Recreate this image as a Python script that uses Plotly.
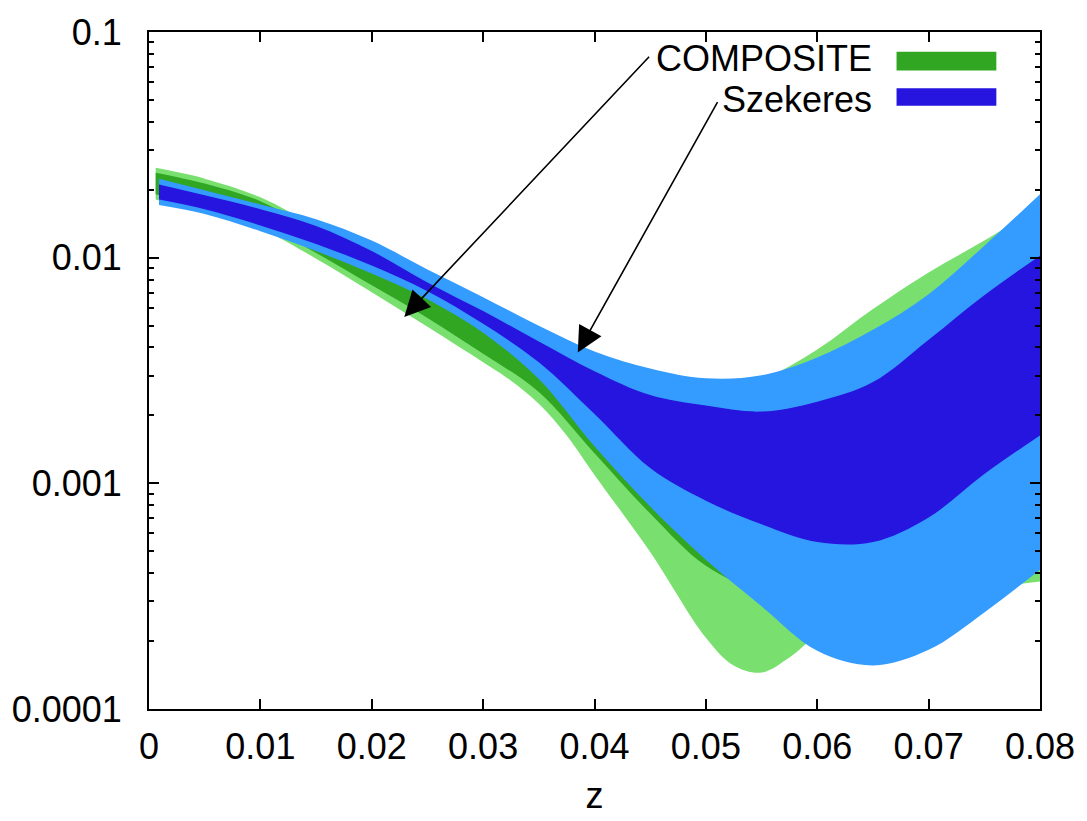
import plotly.graph_objects as go

# ---------------- data ----------------
z_comp = [0.0006, 0.005, 0.01, 0.015, 0.02, 0.025, 0.03, 0.035, 0.04, 0.045,
          0.05, 0.055, 0.06, 0.065, 0.07, 0.075, 0.08]
comp_outer_hi = [0.0250, 0.0224, 0.0185, 0.0138, 0.0107, 0.00754, 0.00557, 0.00412,
                 0.00320, 0.00275, 0.00257, 0.00289, 0.00392, 0.00592, 0.00860,
                 0.01190, 0.0169]
z_comp_lo = [0.0006, 0.005, 0.01, 0.015, 0.02, 0.025, 0.03, 0.0325, 0.035, 0.0375,
             0.04, 0.045, 0.05, 0.0525, 0.055, 0.0575, 0.06, 0.065, 0.07, 0.075, 0.08]
comp_outer_lo = [0.0181, 0.0157, 0.0134, 0.00990, 0.00703, 0.00494, 0.00344, 0.00285,
                 0.00225, 0.00163, 0.00109, 0.000496, 0.000207, 0.000156, 0.000145,
                 0.000169, 0.000211, 0.000271, 0.000315, 0.000342, 0.000367]
comp_inner_hi = [0.0238, 0.0213, 0.0178, 0.0131, 0.00990, 0.00717, 0.00530, 0.00392,
                 0.00304, 0.00262, 0.00237, 0.00237, 0.00275, 0.00354, 0.00504,
                 0.00754, 0.0113]
comp_inner_lo = [0.0191, 0.0167, 0.0142, 0.0105, 0.00754, 0.00541, 0.00375, 0.00254,
                 0.00136, 0.000735, 0.000431, 0.000332, 0.000315, 0.000367,
                 0.000472, 0.000639, 0.000864]

z_szek = [0.0009, 0.005, 0.01, 0.015, 0.02, 0.025, 0.03, 0.035, 0.04, 0.045,
          0.05, 0.055, 0.06, 0.065, 0.07, 0.075, 0.08]
szek_outer_hi = [0.0224, 0.0199, 0.0172, 0.0148, 0.0119, 0.00886, 0.00668, 0.00499,
                 0.00384, 0.00323, 0.00292, 0.00301, 0.00361, 0.00479, 0.00689,
                 0.0113, 0.0191]
szek_outer_lo = [0.0171, 0.0156, 0.0131, 0.0107, 0.00851, 0.00655, 0.00465, 0.00290,
                 0.00146, 0.000789, 0.000458, 0.000285, 0.000181, 0.000156,
                 0.000183, 0.000268, 0.000414]
szek_inner_hi = [0.0211, 0.0189, 0.0164, 0.0138, 0.0107, 0.00777, 0.00580, 0.00425,
                 0.00314, 0.00246, 0.00221, 0.00208, 0.00230, 0.00281, 0.00433,
                 0.00682, 0.0102]
szek_inner_lo = [0.0181, 0.0164, 0.0139, 0.0115, 0.00923, 0.00710, 0.00509, 0.00344,
                 0.00203, 0.00117, 0.000838, 0.000658, 0.000549, 0.000549,
                 0.000706, 0.00110, 0.00163]

x_ticks = [0, 0.01, 0.02, 0.03, 0.04, 0.05, 0.06, 0.07, 0.08]
x_ticktext = ["0", "0.01", "0.02", "0.03", "0.04", "0.05", "0.06", "0.07", "0.08"]
y_ticks = [0.0001, 0.001, 0.01, 0.1]
y_ticktext = ["0.0001", "0.001", "0.01", "0.1"]

series_names = ["COMPOSITE", "Szekeres"]

C_LGREEN = "#79e06f"
C_DGREEN = "#31a622"
C_LBLUE = "#349cff"
C_DBLUE = "#2614df"

FONT = "Liberation Sans, Arial, Helvetica, sans-serif"
FS = 36

fig = go.Figure()


def band(xlo, ylo, xhi, yhi, color):
    fig.add_trace(go.Scatter(x=xlo, y=ylo, mode="lines",
                             line=dict(width=0, color=color, shape="spline", smoothing=1.0),
                             showlegend=False, hoverinfo="skip"))
    fig.add_trace(go.Scatter(x=xhi, y=yhi, mode="lines", fill="tonexty",
                             fillcolor=color,
                             line=dict(width=0, color=color, shape="spline", smoothing=1.0),
                             showlegend=False, hoverinfo="skip"))


band(z_comp_lo, comp_outer_lo, z_comp, comp_outer_hi, C_LGREEN)
band(z_comp, comp_inner_lo, z_comp, comp_inner_hi, C_DGREEN)
band(z_szek, szek_outer_lo, z_szek, szek_outer_hi, C_LBLUE)
band(z_szek, szek_inner_lo, z_szek, szek_inner_hi, C_DBLUE)

fig.update_xaxes(range=[0, 0.08], tickvals=x_ticks, ticktext=x_ticktext,
                 ticks="inside", ticklen=10, tickwidth=1.5, tickcolor="black",
                 showline=True, linewidth=2, linecolor="black", mirror="allticks",
                 showgrid=False, zeroline=False, ticklabelstandoff=5,
                 tickfont=dict(family=FONT, size=FS, color="black"),
                 title=dict(text="z", font=dict(family=FONT, size=FS, color="black"),
                            standoff=17))
fig.update_yaxes(type="log", range=[-4, -1], tickvals=y_ticks, ticktext=y_ticktext,
                 ticks="inside", ticklen=10, tickwidth=1.5, tickcolor="black",
                 minor=dict(ticks="inside", ticklen=5, tickwidth=1.5, tickcolor="black",
                            dtick="D1", showgrid=False),
                 showline=True, linewidth=2, linecolor="black", mirror="allticks",
                 showgrid=False, zeroline=False, ticklabelstandoff=18,
                 tickfont=dict(family=FONT, size=FS, color="black"))

# legend (text + swatch on the right, gnuplot style)
legend_items = [(series_names[0], C_DGREEN, 0.961, 0.943, 0.971),
                (series_names[1], C_DBLUE, 0.901, 0.891, 0.917)]
for name, col, ty, y0, y1 in legend_items:
    fig.add_annotation(xref="paper", yref="paper", x=0.813, y=ty, text=name,
                       showarrow=False, xanchor="right", yanchor="middle",
                       font=dict(family=FONT, size=36, color="black"),
                       borderpad=0)
    fig.add_shape(type="rect", xref="paper", yref="paper", x0=0.839, x1=0.951,
                  y0=y0, y1=y1, fillcolor=col, line=dict(width=0))

# arrows from labels to the bands (log axis -> log10 coordinates)
arrows = [(0.02292, -2.2626, 0.04503, -1.1028),
          (0.03850, -2.4201, 0.05112, -1.3042)]
for x, y, ax, ay in arrows:
    fig.add_annotation(x=x, y=y, ax=ax, ay=ay, xref="x", yref="y", axref="x", ayref="y",
                       text="", showarrow=True, arrowhead=2, arrowsize=3.2,
                       arrowwidth=1.6, arrowcolor="black")

fig.update_layout(width=1087, height=821, margin=dict(l=147, r=46, t=29, b=107),
                  plot_bgcolor="white", paper_bgcolor="white", showlegend=False)

fig.write_html("out.html")
